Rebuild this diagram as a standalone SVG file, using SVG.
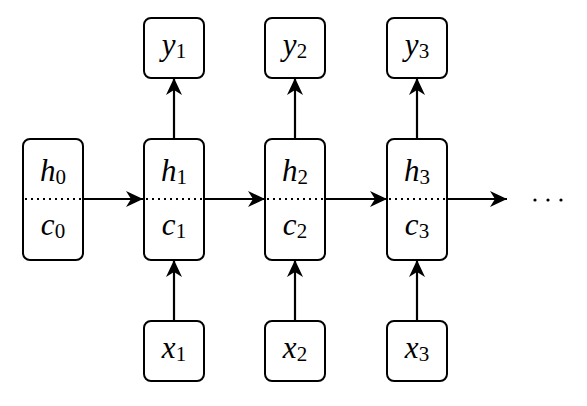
<svg xmlns="http://www.w3.org/2000/svg" width="587" height="406" viewBox="0 0 587 406">
<style>
.box{fill:#fff;stroke:#000;stroke-width:2}
.dot{stroke:#000;stroke-width:2;stroke-dasharray:2 4}
.edge{stroke:#000;stroke-width:2.2;fill:none;marker-end:url(#ah)}
.t{font-family:'Liberation Serif',serif;font-style:italic;font-size:31px;text-anchor:middle}
.s{font-style:normal;font-size:21px}
</style>
<defs>
<marker id="ah" markerUnits="userSpaceOnUse" markerWidth="18" markerHeight="18" refX="17" refY="9" orient="auto">
<path d="M0,1 L17,9 L0,17 L5,9 Z" fill="#000"/>
</marker>
</defs>
<g id="connectors">
<line class="edge" x1="83" y1="199" x2="143" y2="199"/>
<line class="edge" x1="204" y1="199" x2="265" y2="199"/>
<line class="edge" x1="326" y1="199" x2="387" y2="199"/>
<line class="edge" x1="448" y1="199" x2="507" y2="199"/>
<line class="edge" x1="174" y1="321" x2="174" y2="260"/>
<line class="edge" x1="295" y1="321" x2="295" y2="260"/>
<line class="edge" x1="417" y1="321" x2="417" y2="260"/>
<line class="edge" x1="174" y1="139" x2="174" y2="78"/>
<line class="edge" x1="295" y1="139" x2="295" y2="78"/>
<line class="edge" x1="417" y1="139" x2="417" y2="78"/>
</g>
<g id="s0">
<rect class="box" x="23" y="139" width="60" height="121" rx="7"/>
<line class="dot" x1="25" y1="199" x2="81" y2="199"/>
<text class="t" x="53" y="181">h<tspan class="s" dy="3">0</tspan></text>
<text class="t" x="53" y="235">c<tspan class="s" dy="3">0</tspan></text>
</g>
<g id="s1">
<rect class="box" x="144" y="139" width="60" height="121" rx="7"/>
<line class="dot" x1="146" y1="199" x2="202" y2="199"/>
<text class="t" x="174" y="181">h<tspan class="s" dy="3">1</tspan></text>
<text class="t" x="174" y="235">c<tspan class="s" dy="3">1</tspan></text>
</g>
<g id="s2">
<rect class="box" x="265" y="139" width="60" height="121" rx="7"/>
<line class="dot" x1="267" y1="199" x2="323" y2="199"/>
<text class="t" x="295" y="181">h<tspan class="s" dy="3">2</tspan></text>
<text class="t" x="295" y="235">c<tspan class="s" dy="3">2</tspan></text>
</g>
<g id="s3">
<rect class="box" x="387" y="139" width="60" height="121" rx="7"/>
<line class="dot" x1="389" y1="199" x2="445" y2="199"/>
<text class="t" x="417" y="181">h<tspan class="s" dy="3">3</tspan></text>
<text class="t" x="417" y="235">c<tspan class="s" dy="3">3</tspan></text>
</g>
<g id="y1"><rect class="box" x="144" y="18" width="60" height="60" rx="7"/><text class="t" x="174" y="55">y<tspan class="s" dy="3">1</tspan></text></g>
<g id="y2"><rect class="box" x="265" y="18" width="60" height="60" rx="7"/><text class="t" x="295" y="55">y<tspan class="s" dy="3">2</tspan></text></g>
<g id="y3"><rect class="box" x="387" y="18" width="60" height="60" rx="7"/><text class="t" x="417" y="55">y<tspan class="s" dy="3">3</tspan></text></g>
<g id="x1"><rect class="box" x="144" y="321" width="60" height="60" rx="7"/><text class="t" x="174" y="358">x<tspan class="s" dy="3">1</tspan></text></g>
<g id="x2"><rect class="box" x="265" y="321" width="60" height="60" rx="7"/><text class="t" x="295" y="358">x<tspan class="s" dy="3">2</tspan></text></g>
<g id="x3"><rect class="box" x="387" y="321" width="60" height="60" rx="7"/><text class="t" x="417" y="358">x<tspan class="s" dy="3">3</tspan></text></g>
<g id="ellipsis">
<circle cx="535" cy="200" r="1.6"/>
<circle cx="548" cy="200" r="1.6"/>
<circle cx="561" cy="200" r="1.6"/>
</g>
</svg>
